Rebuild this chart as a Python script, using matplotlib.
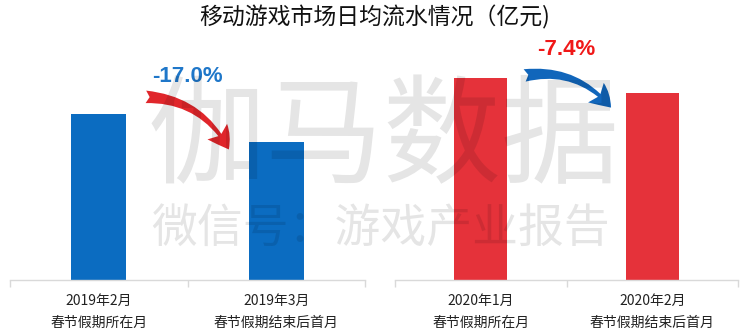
import matplotlib
matplotlib.use("Agg")
import matplotlib.pyplot as plt
from matplotlib.patches import FancyArrowPatch

plt.rcParams['font.family'] = ['Noto Sans CJK SC', 'DejaVu Sans']

title = "移动游戏市场日均流水情况（亿元)"
left_labels = ["2019年2月\n春节假期所在月", "2019年3月\n春节假期结束后首月"]
right_labels = ["2020年1月\n春节假期所在月", "2020年2月\n春节假期结束后首月"]
left_values = [7.40, 6.14]
right_values = [9.00, 8.33]
left_change = "-17.0%"
right_change = "-7.4%"

BLUE = "#0b6cc1"
RED = "#e5323a"
AXIS = "#d9d9d9"
YMAX = 10.7

fig = plt.figure(figsize=(7.5, 3.35), dpi=100)
fig.patch.set_facecolor("white")

fig.text(0.5, 0.948, title, ha="center", va="center", fontsize=16.5, color="#111111")


def panel(rect, labels, values, color, change, change_color, arrow_color,
          arrow_start, arrow_end, label_dy, rad):
    ax = fig.add_axes(rect)
    x = list(range(len(values)))
    ax.bar(x, values, width=0.31, color=color, zorder=2)
    ax.set_xlim(-0.5, len(values) - 0.5)
    ax.set_ylim(0, YMAX)
    for s in ("top", "left", "right"):
        ax.spines[s].set_visible(False)
    ax.spines["bottom"].set_color(AXIS)
    ax.spines["bottom"].set_linewidth(1.0)
    ax.set_yticks([])
    ax.set_xticks([i - 0.5 for i in range(len(values) + 1)])
    ax.set_xticklabels([])
    ax.tick_params(axis="x", which="major", length=5, color=AXIS, width=1.0)
    ax.set_xticks(x, minor=True)
    ax.set_xticklabels(labels, minor=True, fontsize=10, color="#222222",
                       linespacing=1.7)
    ax.tick_params(axis="x", which="minor", length=0, pad=10)
    ax.patch.set_alpha(0)

    ax.text(0.5, values[0] + label_dy, change, ha="center", va="center",
            fontsize=16, fontweight="bold", color=change_color,
            family=["Liberation Sans", "DejaVu Sans"])
    arr = FancyArrowPatch(
        (arrow_start[0], values[0] + arrow_start[1]),
        (arrow_end[0], values[1] + arrow_end[1]),
        connectionstyle=f"arc3,rad={rad}",
        arrowstyle="fancy,head_length=0.85,head_width=1.0,tail_width=0.5",
        mutation_scale=18, color=arrow_color, lw=0, zorder=3)
    ax.add_patch(arr)
    return ax


panel([10 / 750, 1 - 280 / 335, 355 / 750, 240 / 335], left_labels,
      left_values, BLUE, left_change, "#1f77c9", "#e0262b",
      (0.25, 0.77), (0.74, -0.43), 1.66, -0.3)
panel([395 / 750, 1 - 280 / 335, 343 / 750, 240 / 335], right_labels,
      right_values, RED, right_change, "#f01818", "#1166bb",
      (0.24, 0.10), (0.77, -0.74), 1.27, -0.3)

# watermark
fig.text(0.511, 1 - 141 / 335, "伽马数据", ha="center", va="center",
         fontsize=85, color="#000000", alpha=0.10, zorder=10)
fig.text(0.508, 1 - 229 / 335, "微信号：游戏产业报告", ha="center", va="center",
         fontsize=33, color="#000000", alpha=0.10, zorder=10)

fig.savefig("out.png", dpi=100, facecolor="white")
